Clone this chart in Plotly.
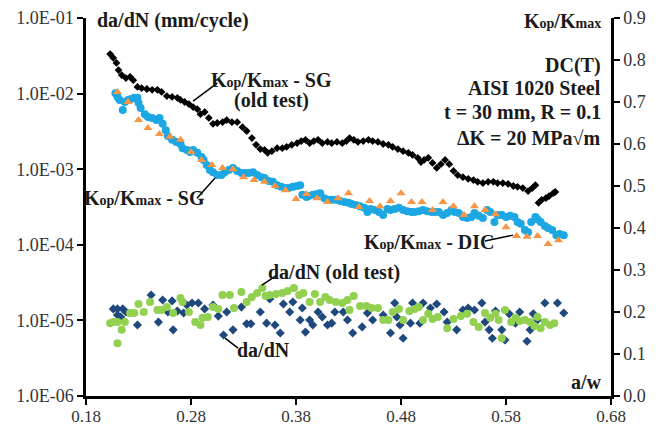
import plotly.graph_objects as go

# ---------------- data ----------------
# Kop/Kmax - SG (old test)  (right axis)
kop_sg_old_aw = [0.203,0.206,0.209,0.211,0.214,0.218,0.222,0.225,0.229,0.233,0.238,0.243,0.248,0.252,0.257,0.262,0.267,0.270,0.274,0.278,
                 0.282,0.286,0.289,0.293,0.297,0.301,0.305,0.310,0.314,0.319,0.324,0.329,0.333,0.338,0.342,0.346,0.350,0.353,0.357,0.362,
                 0.367,0.371,0.376,0.381,0.385,0.389,0.393,0.397,0.401,0.405,0.410,0.414,0.419,0.424,0.428,0.431,0.435,0.439,0.444,0.449,
                 0.453,0.458,0.463,0.468,0.472,0.477,0.482,0.487,0.491,0.496,0.499,0.502,0.506,0.510,0.514,0.518,0.522,0.526,0.530,0.534,
                 0.539,0.544,0.549,0.553,0.558,0.563,0.568,0.572,0.577,0.582,0.587,0.591,0.596,0.601,0.605,0.608,
                 0.611,0.614,0.618,0.621,0.625,0.627]
kop_sg_old = [0.814,0.805,0.793,0.776,0.764,0.757,0.760,0.752,0.736,0.733,0.731,0.729,0.729,0.724,0.714,0.712,0.710,0.705,0.700,0.695,
              0.688,0.683,0.671,0.676,0.662,0.648,0.650,0.652,0.657,0.652,0.652,0.640,0.631,0.614,0.598,0.588,0.586,0.579,0.583,0.590,
              0.590,0.593,0.598,0.602,0.607,0.610,0.602,0.607,0.610,0.602,0.605,0.602,0.605,0.602,0.607,0.614,0.610,0.605,0.607,0.610,
              0.607,0.605,0.600,0.598,0.593,0.588,0.583,0.579,0.574,0.567,0.557,0.562,0.567,0.555,0.543,0.552,0.562,0.552,0.536,0.526,
              0.521,0.517,0.514,0.510,0.507,0.510,0.510,0.507,0.507,0.505,0.500,0.498,0.495,0.488,0.495,0.502,
              0.460,0.467,0.471,0.476,0.483,0.486]

# Kop/Kmax - SG (right axis)
kop_sg_aw = [0.208,0.210,0.212,0.215,0.217,0.220,0.223,0.226,0.229,0.230,0.232,0.236,0.239,0.243,0.247,0.250,0.253,0.256,0.258,0.262,
             0.266,0.270,0.272,0.276,0.279,0.282,0.286,0.290,0.292,0.295,0.298,0.301,0.305,0.309,0.312,0.316,0.320,0.324,0.328,0.331,
             0.335,0.339,0.343,0.347,0.350,0.354,0.358,0.362,0.366,0.370,0.373,0.377,0.381,0.384,0.386,0.390,0.392,0.396,0.400,0.403,
             0.407,0.410,0.414,0.418,0.422,0.426,0.430,0.433,0.437,0.441,0.445,0.448,0.451,0.455,0.459,0.463,0.467,0.470,0.474,0.478,
             0.482,0.486,0.490,0.493,0.497,0.501,0.505,0.509,0.512,0.516,0.520,0.524,0.528,0.531,0.535,0.539,0.543,0.547,0.550,0.554,
             0.558,0.562,0.565,0.569,0.572,0.576,0.580,0.584,0.588,0.591,0.594,0.598,0.601,0.604,0.608,0.610,0.613,0.617,0.620,0.624,
             0.628,0.631,0.635]
kop_sg = [0.721,0.712,0.705,0.681,0.700,0.705,0.707,0.710,0.710,0.698,0.686,0.671,0.664,0.662,0.657,0.662,0.648,0.633,0.619,0.610,
          0.605,0.600,0.590,0.586,0.581,0.586,0.579,0.569,0.562,0.550,0.538,0.533,0.526,0.526,0.533,0.538,0.543,0.536,0.531,0.531,
          0.531,0.533,0.526,0.521,0.519,0.512,0.510,0.502,0.498,0.495,0.495,0.498,0.500,0.502,0.479,0.474,0.476,0.479,0.481,0.483,
          0.471,0.467,0.467,0.467,0.464,0.462,0.460,0.457,0.455,0.452,0.448,0.438,0.445,0.443,0.438,0.431,0.445,0.443,0.445,0.448,
          0.443,0.440,0.438,0.438,0.440,0.443,0.440,0.438,0.438,0.438,0.431,0.436,0.443,0.438,0.436,0.426,0.424,0.426,0.436,0.429,
          0.424,0.443,0.438,0.414,0.431,0.431,0.426,0.429,0.426,0.414,0.410,0.395,0.390,0.414,0.426,0.421,0.414,0.405,0.400,0.395,
          0.383,0.386,0.383]

# Kop/Kmax - DIC (right axis)
kop_dic_aw = [0.210,0.220,0.230,0.239,0.250,0.260,0.270,0.280,0.290,0.300,0.310,0.320,0.330,0.340,0.350,0.360,0.370,0.380,0.390,0.400,
              0.410,0.420,0.430,0.440,0.450,0.460,0.470,0.480,0.490,0.500,0.510,0.520,0.530,0.540,0.550,0.560,0.570,0.580,0.590,0.600,
              0.610,0.620,0.630]
kop_dic = [0.724,0.700,0.657,0.638,0.624,0.617,0.610,0.581,0.562,0.550,0.543,0.540,0.521,0.514,0.510,0.500,0.490,0.469,0.481,0.471,
           0.462,0.471,0.483,0.450,0.464,0.452,0.464,0.483,0.462,0.462,0.443,0.462,0.452,0.431,0.452,0.443,0.433,0.402,0.381,0.379,
           0.381,0.362,0.371]

# da/dN (old test)  (left axis, mm/cycle)
dadn_old_aw = [0.203,0.206,0.210,0.210,0.214,0.217,0.222,0.226,0.230,0.235,0.241,0.248,0.252,0.257,0.263,0.270,0.272,0.278,0.284,0.289,
               0.291,0.296,0.301,0.306,0.310,0.317,0.321,0.328,0.333,0.338,0.343,0.348,0.351,0.355,0.361,0.367,0.372,0.378,0.383,0.387,
               0.393,0.398,0.403,0.408,0.412,0.418,0.424,0.429,0.431,0.435,0.441,0.447,0.452,0.458,0.463,0.468,0.472,0.478,0.482,0.488,
               0.493,0.497,0.501,0.506,0.510,0.515,0.524,0.530,0.537,0.543,0.549,0.554,0.560,0.565,0.570,0.573,0.576,0.579,0.585,0.589,
               0.593,0.598,0.603,0.607,0.610,0.613,0.617,0.622,0.626]
dadn_old = [9.2e-6,9.5e-6,5.0e-6,9.5e-6,7.5e-6,9.5e-6,1.25e-5,1.25e-5,1.65e-5,1.29e-5,1.75e-5,1.37e-5,1.37e-5,1.50e-5,1.25e-5,1.98e-5,1.75e-5,1.29e-5,9.5e-6,8.7e-6,
            1.08e-5,1.11e-5,1.50e-5,1.42e-5,2.17e-5,2.17e-5,1.46e-5,2.37e-5,1.75e-5,2.04e-5,2.30e-5,2.68e-5,2.10e-5,2.17e-5,2.23e-5,2.30e-5,2.45e-5,2.68e-5,2.17e-5,2.30e-5,
            1.75e-5,2.23e-5,1.75e-5,2.04e-5,1.86e-5,1.75e-5,1.70e-5,1.86e-5,1.37e-5,2.10e-5,1.55e-5,1.55e-5,1.46e-5,1.46e-5,1.01e-5,1.01e-5,1.29e-5,1.42e-5,1.01e-5,1.33e-5,
            1.42e-5,1.50e-5,1.01e-5,1.22e-5,1.04e-5,1.11e-5,7.9e-6,1.04e-5,1.14e-5,1.22e-5,9.5e-6,8.2e-6,1.25e-5,1.08e-5,1.22e-5,1.01e-5,5.8e-6,1.37e-5,9.5e-6,1.08e-5,
            9.8e-6,1.01e-5,9.5e-6,8.4e-6,1.11e-5,7.9e-6,9.5e-6,8.7e-6,9.2e-6]

# da/dN  (left axis, mm/cycle)
dadn_aw = [0.206,0.210,0.215,0.210,0.213,0.218,0.229,0.242,0.249,0.253,0.258,0.262,0.263,0.267,0.273,0.276,0.281,0.287,0.293,0.301,
           0.306,0.311,0.314,0.320,0.328,0.333,0.337,0.346,0.352,0.355,0.360,0.365,0.368,0.374,0.377,0.384,0.386,0.389,0.393,0.396,
           0.401,0.405,0.410,0.414,0.417,0.425,0.429,0.434,0.443,0.448,0.453,0.463,0.470,0.474,0.476,0.479,0.482,0.489,0.491,0.498,
           0.501,0.508,0.514,0.521,0.524,0.533,0.539,0.544,0.550,0.557,0.560,0.564,0.567,0.570,0.576,0.579,0.583,0.589,0.593,0.600,
           0.603,0.606,0.610,0.617,0.629,0.635]
dadn = [1.42e-5,1.42e-5,1.42e-5,1.18e-5,1.11e-5,1.29e-5,8.7e-6,2.17e-5,9.5e-6,1.86e-5,1.29e-5,1.81e-5,7.5e-6,1.33e-5,1.25e-5,1.60e-5,1.70e-5,1.70e-5,1.42e-5,1.60e-5,
        1.14e-5,6.4e-6,1.29e-5,7.5e-6,1.50e-5,9.0e-6,9.0e-6,1.29e-5,9.2e-6,1.92e-5,8.7e-6,6.8e-6,1.65e-5,1.29e-5,1.75e-5,1.01e-5,1.46e-5,7.0e-6,1.01e-5,8.7e-6,
        1.29e-5,1.11e-5,8.7e-6,9.2e-6,1.29e-5,1.29e-5,1.01e-5,6.8e-6,8.2e-6,1.25e-5,1.01e-5,1.18e-5,6.8e-6,1.70e-5,1.11e-5,8.7e-6,5.8e-6,9.2e-6,1.70e-5,9.2e-6,
        1.70e-5,1.46e-5,1.65e-5,1.29e-5,9.5e-6,7.5e-6,1.37e-5,1.46e-5,1.37e-5,1.70e-5,9.5e-6,7.5e-6,5.8e-6,1.33e-5,7.5e-6,5.5e-6,1.22e-5,9.2e-6,1.29e-5,5.3e-6,
        7.5e-6,1.22e-5,1.01e-5,1.70e-5,1.70e-5,1.25e-5]

x_ticks = [0.18, 0.28, 0.38, 0.48, 0.58, 0.68]
x_ticktext = ["0.18", "0.28", "0.38", "0.48", "0.58", "0.68"]
y_ticks = [1e-6, 1e-5, 1e-4, 1e-3, 1e-2, 1e-1]
y_ticktext = ["1.0E-06", "1.0E-05", "1.0E-04", "1.0E-03", "1.0E-02", "1.0E-01"]
y2_ticks = [0.0, 0.1, 0.2, 0.3, 0.4, 0.5, 0.6, 0.7, 0.8, 0.9]
y2_ticktext = ["0.0", "0.1", "0.2", "0.3", "0.4", "0.5", "0.6", "0.7", "0.8", "0.9"]

# ---------------- figure ----------------
FONT = "Liberation Serif, Times New Roman, serif"
TXT = "#1a1a1a"

fig = go.Figure()
fig.add_trace(go.Scatter(x=dadn_aw, y=dadn, mode="markers", yaxis="y",
                         marker=dict(symbol="diamond", size=7, color="#1f497d"), name="da/dN"))
fig.add_trace(go.Scatter(x=dadn_old_aw, y=dadn_old, mode="markers", yaxis="y",
                         marker=dict(symbol="circle", size=8, color="#92d050"), name="da/dN (old test)"))
fig.add_trace(go.Scatter(x=kop_sg_aw, y=kop_sg, mode="markers", yaxis="y2",
                         marker=dict(symbol="circle", size=8, color="#1ca7e3"), name="Kop/Kmax - SG"))
fig.add_trace(go.Scatter(x=kop_dic_aw, y=kop_dic, mode="markers", yaxis="y2",
                         marker=dict(symbol="triangle-up", size=8, color="#f79646"), name="Kop/Kmax - DIC"))
fig.add_trace(go.Scatter(x=kop_sg_old_aw, y=kop_sg_old, mode="markers", yaxis="y2",
                         marker=dict(symbol="diamond", size=6, color="#000000"), name="Kop/Kmax - SG (old test)"))

def axis_style(size, ticklen):
    return dict(showgrid=False, zeroline=False, showline=True, linecolor="#000", linewidth=2.5,
                ticks="outside", ticklen=ticklen, tickwidth=2, tickcolor="#000", automargin=False,
                tickfont=dict(family=FONT, size=size, color="#333"))

fig.update_layout(
    width=667, height=425, autosize=False,
    margin=dict(l=86, r=56, t=18, b=29, pad=0),
    paper_bgcolor="white", plot_bgcolor="white", showlegend=False,
    xaxis=dict(range=[0.18, 0.68], tickvals=x_ticks, ticktext=x_ticktext, ticklabelstandoff=-3,
               **axis_style(17, 6)),
    yaxis=dict(type="log", range=[-6, -1], tickvals=y_ticks, ticktext=y_ticktext, **axis_style(18, 6)),
    yaxis2=dict(range=[0, 0.9], tickvals=y2_ticks, ticktext=y2_ticktext, overlaying="y", side="right",
                **axis_style(18, 6)),
)

def note(text, x, y, xanchor="center", size=20, align="center"):
    fig.add_annotation(text=text, x=x, y=y, xref="x", yref="y2", showarrow=False,
                       xanchor=xanchor, yanchor="middle", align=align,
                       font=dict(family=FONT, size=size, color=TXT))

def leader(x0, y0, x1, y1):
    fig.add_shape(type="line", x0=x0, y0=y0, x1=x1, y1=y1, xref="x", yref="y2",
                  line=dict(color="#000", width=1.5))

sub = lambda s: f"<span style='font-size:14px'>{s}</span>"
KOP = f"<b>K{sub('op')}/K{sub('max')}</b>"

note("<b>da/dN (mm/cycle)</b>", 0.1886, 0.893, xanchor="left")
note(KOP, 0.6724, 0.893, xanchor="right")
note("<b>DC(T)</b>", 0.6724, 0.788, xanchor="right")
note("<b>AISI 1020 Steel</b>", 0.6724, 0.733, xanchor="right")
note("<b>t = 30 mm, R = 0.1</b>", 0.6724, 0.676, xanchor="right")
note("<b>ΔK = 20 MPa√m</b>", 0.6724, 0.614, xanchor="right")

note(KOP + "<b> - SG</b>", 0.357, 0.753)
note("<b>(old test)</b>", 0.357, 0.703)
leader(0.282, 0.702, 0.305, 0.745)

note(KOP + "<b> - SG</b>", 0.2357, 0.471)
leader(0.2857, 0.471, 0.3029, 0.519)

note(KOP + "<b> - DIC</b>", 0.5067, 0.367)
leader(0.560, 0.369, 0.5867, 0.383)

note("<b>da/dN (old test)</b>", 0.416, 0.293)
leader(0.3476, 0.264, 0.3619, 0.288)

note("<b>da/dN</b>", 0.349, 0.110)
leader(0.3124, 0.138, 0.3248, 0.114)

note("<b>a/w</b>", 0.657, 0.033)

fig.write_html("out.html")
